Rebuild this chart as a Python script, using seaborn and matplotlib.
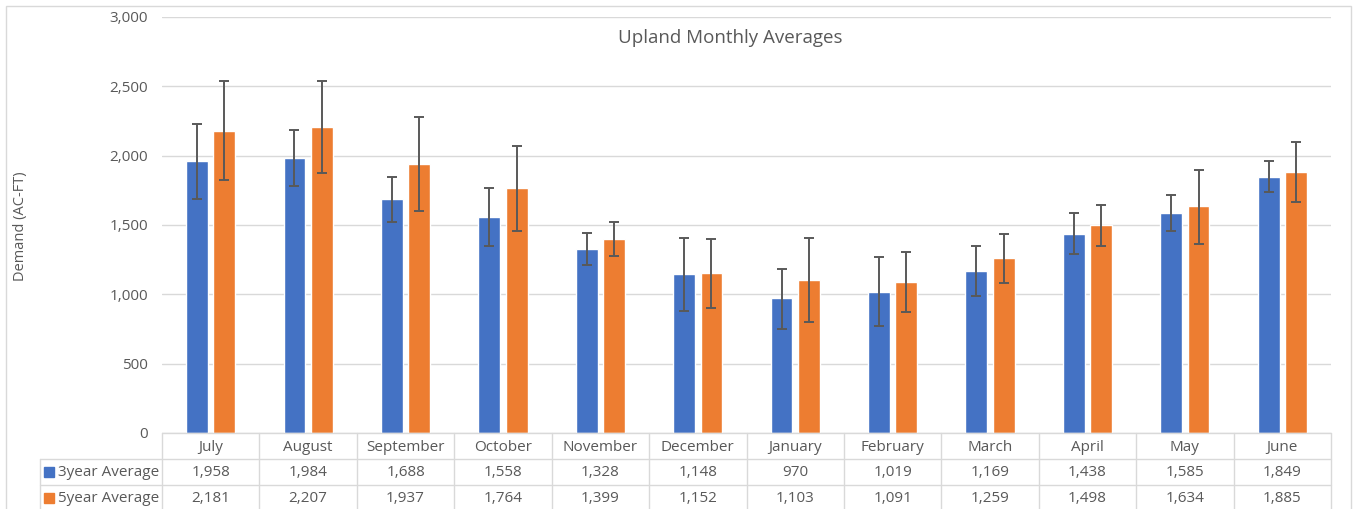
import numpy as np
import pandas as pd
import seaborn as sns
import matplotlib.pyplot as plt
from matplotlib.patches import Rectangle
from matplotlib.ticker import StrMethodFormatter

months = ['July', 'August', 'September', 'October', 'November', 'December',
          'January', 'February', 'March', 'April', 'May', 'June']
avg_3yr = [1958, 1984, 1688, 1558, 1328, 1148, 970, 1019, 1169, 1438, 1585, 1849]
avg_5yr = [2181, 2207, 1937, 1764, 1399, 1152, 1103, 1091, 1259, 1498, 1634, 1885]
# error bar ends
low_3yr = [1691, 1782, 1525, 1347, 1215, 880, 753, 770, 989, 1289, 1455, 1737]
high_3yr = [2227, 2184, 1845, 1766, 1439, 1407, 1181, 1270, 1349, 1590, 1713, 1958]
low_5yr = [1823, 1876, 1600, 1455, 1275, 902, 801, 876, 1080, 1352, 1364, 1665]
high_5yr = [2537, 2537, 2276, 2071, 1525, 1398, 1403, 1306, 1434, 1643, 1898, 2102]
series = ['3year Average', '5year Average']
colors = {'3year Average': '#4472C4', '5year Average': '#ED7D31'}

df = pd.DataFrame({
    'month': months * 2,
    'series': [series[0]] * 12 + [series[1]] * 12,
    'value': avg_3yr + avg_5yr,
})

sns.set_style('white')
plt.rcParams['font.family'] = ['Open Sans', 'DejaVu Sans']
grey = '#595959'
line_c = '#d9d9d9'

fig = plt.figure(figsize=(13.54, 5.09), dpi=100)
ax = fig.add_axes([162 / 1354, 1 - 433 / 509, 1169 / 1354, 416 / 509])

sns.barplot(data=df, x='month', y='value', hue='series', order=months,
            hue_order=series, palette=colors, width=0.56, gap=0.2,
            errorbar=None, ax=ax, saturation=1, legend=False)

# error bars on top of the bars
bounds = {series[0]: (low_3yr, high_3yr), series[1]: (low_5yr, high_5yr)}
for cont, name in zip(ax.containers, series):
    lo, hi = bounds[name]
    xs = [b.get_x() + b.get_width() / 2 for b in cont]
    ys = np.array([b.get_height() for b in cont])
    yerr = [ys - np.array(lo), np.array(hi) - ys]
    ax.errorbar(xs, ys, yerr=yerr, fmt='none', ecolor=grey, elinewidth=1.4,
                capsize=3.5, capthick=1.4, zorder=5)

ax.set_xlim(-0.5, 11.5)
ax.set_ylim(0, 3000)
ax.set_yticks(range(0, 3001, 500))
ax.yaxis.set_major_formatter(StrMethodFormatter('{x:,.0f}'))
ax.tick_params(axis='y', length=0, pad=10, labelsize=11, labelcolor=grey)
ax.tick_params(axis='x', length=0, labelbottom=False)
ax.set_xlabel('')
ax.set_ylabel('')
ax.grid(axis='y', color=line_c, linewidth=1)
ax.set_axisbelow(True)
for sp in ax.spines.values():
    sp.set_visible(False)

# data table below the plot
trans = ax.get_xaxis_transform()
h = 26 / 416
left = -1.75
kw = dict(transform=trans, clip_on=False, color=line_c, linewidth=1)
ax.plot([-0.5, 11.5], [0, 0], **kw)
for r in (1, 2, 3):
    ax.plot([left, 11.5], [-r * h, -r * h], **kw)
for i in range(13):
    ax.plot([i - 0.5, i - 0.5], [0, -3 * h], **kw)
ax.plot([left, left], [-h, -3 * h], **kw)

for i, m in enumerate(months):
    ax.text(i, -0.55 * h, m, transform=trans, ha='center', va='center',
            fontsize=11, color=grey)
    ax.text(i, -1.5 * h, f'{avg_3yr[i]:,}', transform=trans, ha='center',
            va='center', fontsize=11, color=grey)
    ax.text(i, -2.5 * h, f'{avg_5yr[i]:,}', transform=trans, ha='center',
            va='center', fontsize=11, color=grey)

for r, name in enumerate(series):
    y = -(1.5 + r) * h
    ax.plot([-1.66], [y], marker='s', markersize=6.5, color=colors[name],
            transform=trans, clip_on=False)
    ax.text(-1.57, y, name, transform=trans, ha='left', va='center',
            fontsize=11, color=grey)

fig.text(730 / 1354, 1 - 38 / 509, 'Upland Monthly Averages', ha='center',
         va='center', fontsize=13.5, color=grey)
fig.text(21 / 1354, 1 - 226 / 509, 'Demand (AC-FT)', rotation=90,
         ha='center', va='center', fontsize=10.5, color=grey)

fig.patches.append(Rectangle((6 / 1354, -0.02), 1345 / 1354, 0.02 + 1 - 6 / 509,
                             transform=fig.transFigure, fill=False,
                             edgecolor=line_c, linewidth=1))

fig.savefig('out.png', dpi=100)
